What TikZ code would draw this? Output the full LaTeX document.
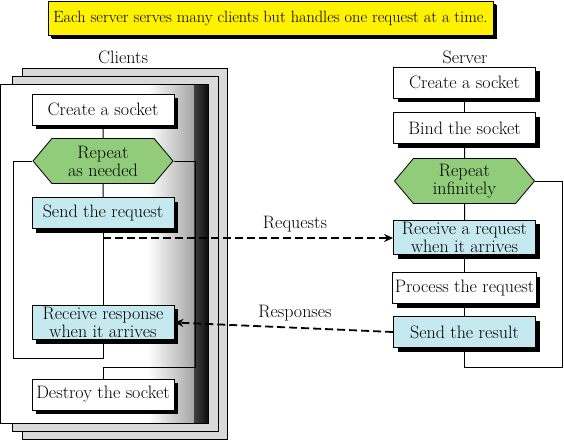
\documentclass[tikz,border=0pt]{standalone}
\usepackage{tikz}
\usetikzlibrary{shapes.symbols,shadows,arrows.meta}
\definecolor{stepgreen}{RGB}{144,204,122}
\definecolor{stepblue}{RGB}{198,233,240}
\definecolor{pagegray}{RGB}{217,217,217}

\tikzset{
	plain/.style={draw, fill=white, line width=0.8pt, inner sep=2pt, align=center,
		font=\fontsize{18}{18}\selectfont},
	box/.style={plain, minimum width=142pt, minimum height=31pt,
		drop shadow={shadow xshift=4pt, shadow yshift=-4pt, fill=black, opacity=1}},
	hexa/.style={plain, signal, signal to=east and west, signal pointer angle=100,
		fill=stepgreen, minimum width=140pt, minimum height=45pt, inner sep=1pt},
	flow/.style={line width=1pt},
	msg/.style={line width=1.8pt, dash pattern=on 8pt off 4pt, -{Stealth[length=9pt,width=8pt]}},
	lbl/.style={font=\fontsize{18}{18}\selectfont}
}

\begin{document}
\begin{tikzpicture}[x=1pt,y=-1pt]
					\useasboundingbox (0,0) rectangle (564,440);
					
					% title
					\node[box, fill=yellow, minimum width=445pt, minimum height=34pt, drop shadow={shadow xshift=3pt, shadow yshift=-3pt, fill=black, opacity=1}, font=\fontsize{16.3}{18}\selectfont] (title) at (270.5,18) {Each server serves many clients but handles one request at a time.};
					
					% stacked client pages
					\draw[fill=pagegray, line width=0.8pt] (22,68) rectangle (227,439);
					\draw[fill=pagegray, line width=0.8pt] (12,76) rectangle (218,431);
					\fill[white] (0,84) rectangle (208,423);
					\shade[left color=white, right color=black!35] (148,84) rectangle (194,423);
					\shade[left color=black!75, right color=black!95] (194,84) rectangle (208,423);
					\draw[line width=0.8pt] (0,84) rectangle (208,423);
					
					\node[lbl] (clients) at (123,57) {Clients};
					\node[lbl] (server) at (465,57) {Server};
					
					% client side
					\node[box] (cCreate) at (103,109.5) {Create a socket};
					\node[hexa] (cRepeat) at (103,161) {Repeat\\as needed};
					\node[box, fill=stepblue] (cSend) at (103,213) {Send the request};
					\node[box, fill=stepblue] (cRecv) at (103,322.5) {Receive response\\when it arrives};
					\node[box] (cDestroy) at (103,394.5) {Destroy the socket};
					
					\coordinate (cL) at (13,358);
					\coordinate (cR) at (195,367);
					\coordinate (cTap) at (103,238);
					
					\draw[flow] (cCreate) -- (cRepeat);
					\draw[flow] (cRepeat) -- (cSend);
					\draw[flow] (cSend) -- (cRecv);
					\draw[flow] (cRepeat.west) -| (cL) -| (cRecv.south);
					\draw[flow] (cRepeat.east) -| (cR) -| (cDestroy.north);
					
					% server side
					\node[box] (sCreate) at (464.5,82.5) {Create a socket};
					\node[box] (sBind) at (464.5,128) {Bind the socket};
					\node[hexa] (sRepeat) at (464.5,181) {Repeat\\infinitely};
					\node[box, fill=stepblue] (sRecv) at (464.5,237.5) {Receive a request\\when it arrives};
					\node[box] (sProc) at (464.5,288) {Process the request};
					\node[box, fill=stepblue] (sSend) at (464.5,332) {Send the result};
					
					\coordinate (sR) at (562.5,367);
					
					\draw[flow] (sCreate) -- (sBind);
					\draw[flow] (sBind) -- (sRepeat);
					\draw[flow] (sRepeat) -- (sRecv);
					\draw[flow] (sRecv) -- (sProc);
					\draw[flow] (sProc) -- (sSend);
					\draw[flow] (sSend.south) |- (sR) |- (sRepeat.east);
					
					% messages
					\draw[msg] (cTap) -- (cTap -| sRecv.west);
					\draw[msg] (sSend.west) -- (cRecv.east);
					\node[lbl] (req) at (295,224) {Requests};
					\node[lbl] (resp) at (295,313) {Responses};
				\end{tikzpicture}
\end{document}
